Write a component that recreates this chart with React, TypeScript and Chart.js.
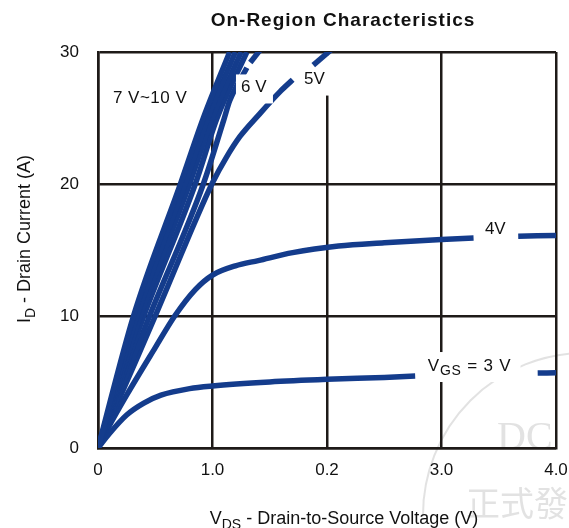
import { useEffect, useRef } from "react";
import { Chart, registerables } from "chart.js";

Chart.register(...registerables);

// ---------- data ----------
const TITLE = "On-Region Characteristics";
const X_TICKS = [0, 1, 2, 3, 4];
const X_TICK_LABELS = ["0", "1.0", "0.2", "3.0", "4.0"];
const Y_TICKS = [0, 10, 20, 30];
const Y_TICK_LABELS = ["0", "10", "20", "30"];

const VDS_10V = [0, 0.31, 0.72, 0.92, 1.15];
const ID_10V = [0, 10, 20, 25, 30];
const VDS_9V = [0, 0.34, 0.76, 0.96, 1.2];
const ID_9V = [0, 10, 20, 25, 30];
const VDS_8V = [0, 0.37, 0.8, 1.0, 1.25];
const ID_8V = [0, 10, 20, 25, 30];
const VDS_7V = [0, 0.4, 0.85, 1.04, 1.3];
const ID_7V = [0, 10, 20, 25, 30];
const VDS_6V = [0, 0.45, 0.92, 1.1, 1.15, 1.3, 1.33, 1.42];
const ID_6V = [0, 10, 20, 24.9, 26.3, 28.8, 29.2, 30.2];
const VDS_5V = [0, 0.25, 0.5, 0.67, 0.84, 1.0, 1.12, 1.24, 1.4, 1.59, 1.7, 1.88, 2.04];
const ID_5V = [0, 5, 10, 13.5, 17, 20.1, 22, 23.6, 25.2, 27, 27.9, 29, 30.2];
const VDS_4V = [0, 0.1, 0.25, 0.5, 0.67, 0.85, 1.0, 1.2, 1.4, 1.7, 2.1, 2.5, 3.0, 3.28, 3.67, 4.0];
const ID_4V = [0, 1.7, 4.0, 7.6, 10, 12, 13.1, 13.8, 14.2, 14.8, 15.3, 15.55, 15.8, 15.9, 16.05, 16.1];
const VDS_3V = [0, 0.1, 0.25, 0.4, 0.55, 0.8, 1.0, 1.5, 2.0, 2.5, 2.77, 3.84, 4.0];
const ID_3V = [0, 1.1, 2.5, 3.4, 4.0, 4.5, 4.7, 5.0, 5.2, 5.35, 5.45, 5.68, 5.7];

// label gaps along curves (VDS from, VDS to)
const GAP_6V = [1.3, 1.33];
const GAP_5V = [1.7, 1.88];
const GAP_4V = [3.28, 3.67];
const GAP_3V = [2.77, 3.84];

// ---------- style ----------
const FONT = '"Liberation Sans", Arial, Helvetica, sans-serif';
const BLUE = "#143c8c";
const GRID = "#1e1a18";
const TEXT = "#111111";

type Part = [string, boolean];

function setFont(ctx: CanvasRenderingContext2D, size: number, sub: boolean, bold: boolean, subScale: number) {
  ctx.font = `${bold ? "bold " : ""}${sub ? Math.round(size * subScale) : size}px ${FONT}`;
}

function segments(vds: number[], id: number[], gap?: number[]) {
  const pts = vds.map((x, i) => ({ x, y: id[i] }));
  if (!gap) return [pts];
  return [pts.filter((p) => p.x <= gap[0]), pts.filter((p) => p.x >= gap[1])];
}

function drawParts(
  ctx: CanvasRenderingContext2D,
  parts: Part[],
  x: number,
  y: number,
  size: number,
  align: "left" | "center",
  bold = false,
  spacing = 0,
  subScale = 0.75
) {
  (ctx as any).letterSpacing = `${spacing}px`;
  let total = 0;
  for (const [t, sub] of parts) {
    setFont(ctx, size, sub, bold, subScale);
    total += ctx.measureText(t).width;
  }
  let cx = align === "center" ? x - total / 2 : x;
  ctx.textAlign = "left";
  ctx.textBaseline = "middle";
  ctx.fillStyle = TEXT;
  for (const [t, sub] of parts) {
    setFont(ctx, size, sub, bold, subScale);
    ctx.fillText(t, cx, sub ? y + size * 0.32 : y);
    cx += ctx.measureText(t).width;
  }
  (ctx as any).letterSpacing = "0px";
}

// curve labels: anchor in data coordinates
const CURVE_LABELS: { parts: Part[]; v: number; i: number; align: "left" | "center"; spacing: number; subScale: number }[] = [
  { parts: [["7 V~10 V", false]], v: 0.13, i: 26.5, align: "left", spacing: 0.5, subScale: 0.75 },
  { parts: [["6 V", false]], v: 1.36, i: 27.3, align: "center", spacing: 0, subScale: 0.75 },
  { parts: [["5V", false]], v: 1.89, i: 27.9, align: "center", spacing: 0, subScale: 0.75 },
  { parts: [["4V", false]], v: 3.47, i: 16.6, align: "center", spacing: 0, subScale: 0.75 },
  {
    parts: [["V", false], ["GS", true], [" = 3 V", false]],
    v: 2.88,
    i: 6.2,
    align: "left",
    spacing: 0.8,
    subScale: 0.82,
  },
];

// white masks behind labels, in data coordinates [v1, v2, i1, i2]
const MASKS_UNDER = [
  [1.75, 2.08, 29.75, 26.7],
  [2.86, 3.69, 7.27, 5.0],
];
const MASKS_OVER = [[1.205, 1.528, 28.3, 26.1]];

function fillMasks(chart: any, masks: number[][]) {
  const ctx = chart.ctx as CanvasRenderingContext2D;
  const xs = chart.scales.x;
  const ys = chart.scales.y;
  ctx.fillStyle = "#ffffff";
  for (const [v1, v2, i1, i2] of masks) {
    const x1 = xs.getPixelForValue(v1);
    const x2 = xs.getPixelForValue(v2);
    const y1 = ys.getPixelForValue(i1);
    const y2 = ys.getPixelForValue(i2);
    ctx.fillRect(x1, y1, x2 - x1, y2 - y1);
  }
}

const labelPlugin = {
  id: "labelPlugin",
  beforeDraw(chart: any) {
    const ctx = chart.ctx as CanvasRenderingContext2D;
    ctx.save();
    ctx.fillStyle = "#ffffff";
    ctx.fillRect(0, 0, chart.width, chart.height);
    // faint watermark
    ctx.strokeStyle = "rgba(190,190,190,0.45)";
    ctx.lineWidth = 2;
    ctx.beginPath();
    ctx.arc(585, 515, 162, Math.PI, Math.PI * 1.6);
    ctx.stroke();
    ctx.fillStyle = "rgba(190,190,190,0.45)";
    ctx.textAlign = "left";
    ctx.textBaseline = "alphabetic";
    ctx.font = `40px "Liberation Serif", "DejaVu Serif", serif`;
    ctx.fillText("DC", 497, 449);
    ctx.font = `34px "Noto Sans CJK SC", sans-serif`;
    ctx.fillText("正式發", 466, 516);
    ctx.restore();
  },
  beforeDatasetsDraw(chart: any) {
    chart.ctx.save();
    fillMasks(chart, MASKS_UNDER);
    chart.ctx.restore();
  },
  afterDatasetsDraw(chart: any) {
    const ctx = chart.ctx as CanvasRenderingContext2D;
    const xs = chart.scales.x;
    const ys = chart.scales.y;
    ctx.save();
    fillMasks(chart, MASKS_OVER);
    for (const l of CURVE_LABELS) {
      drawParts(
        ctx,
        l.parts,
        xs.getPixelForValue(l.v),
        ys.getPixelForValue(l.i),
        17,
        l.align,
        false,
        l.spacing,
        l.subScale
      );
    }
    ctx.restore();
  },
  afterDraw(chart: any) {
    const ctx = chart.ctx as CanvasRenderingContext2D;
    ctx.save();
    drawParts(ctx, [[TITLE, false]], 343, 21, 19, "center", true, 1);
    drawParts(
      ctx,
      [["V", false], ["DS", true], [" - Drain-to-Source Voltage (V)", false]],
      344,
      519,
      18,
      "center"
    );
    ctx.translate(25, 239);
    ctx.rotate(-Math.PI / 2);
    drawParts(ctx, [["I", false], ["D", true], [" - Drain Current (A)", false]], 0, 0, 18, "center");
    ctx.restore();
  },
};

export default function App() {
  const ref = useRef<HTMLCanvasElement | null>(null);

  useEffect(() => {
    if (!ref.current) return;
    const series: { x: number; y: number }[][] = [
      ...segments(VDS_10V, ID_10V),
      ...segments(VDS_9V, ID_9V),
      ...segments(VDS_8V, ID_8V),
      ...segments(VDS_7V, ID_7V),
      ...segments(VDS_6V, ID_6V, GAP_6V),
      ...segments(VDS_5V, ID_5V, GAP_5V),
      ...segments(VDS_4V, ID_4V, GAP_4V),
      ...segments(VDS_3V, ID_3V, GAP_3V),
    ];
    const chart = new Chart(ref.current, {
      type: "scatter",
      data: {
        datasets: series.map((pts) => ({
          data: pts,
          showLine: true,
          borderColor: BLUE,
          backgroundColor: BLUE,
          borderWidth: 5.5,
          pointRadius: 0,
          cubicInterpolationMode: "monotone" as const,
          borderCapStyle: "butt" as const,
        })),
      },
      options: {
        animation: false,
        responsive: true,
        maintainAspectRatio: false,
        layout: { padding: { top: 52, right: 13, left: 0, bottom: 0 } },
        plugins: { legend: { display: false }, tooltip: { enabled: false }, title: { display: false } },
        events: [],
        scales: {
          x: {
            type: "linear",
            min: 0,
            max: 4,
            afterBuildTicks: (axis: any) => {
              axis.ticks = X_TICKS.map((v) => ({ value: v }));
            },
            afterFit: (axis: any) => {
              axis.height = 80;
              axis.paddingLeft = 0;
              axis.paddingRight = 0;
            },
            ticks: {
              callback: (_v: any, idx: number) => X_TICK_LABELS[idx],
              font: { size: 17, family: FONT },
              color: TEXT,
              padding: 12,
              maxRotation: 0,
              autoSkip: false,
            },
            grid: { color: GRID, lineWidth: 2.5, drawTicks: false },
            border: { display: true, color: GRID, width: 2.5 },
          },
          y: {
            type: "linear",
            min: 0,
            max: 30,
            afterBuildTicks: (axis: any) => {
              axis.ticks = Y_TICKS.map((v) => ({ value: v }));
            },
            afterFit: (axis: any) => {
              axis.width = 98;
              axis.paddingTop = 0;
              axis.paddingBottom = 0;
            },
            ticks: {
              callback: (_v: any, idx: number) => Y_TICK_LABELS[idx],
              font: { size: 17, family: FONT },
              color: TEXT,
              padding: 19,
              autoSkip: false,
            },
            grid: { color: GRID, lineWidth: 2.5, drawTicks: false },
            border: { display: true, color: GRID, width: 2.5 },
          },
        },
      },
      plugins: [labelPlugin],
    });
    return () => chart.destroy();
  }, []);

  return (
    <div style={{ position: "fixed", left: 0, top: 0, width: 569, height: 528, background: "#fff" }}>
      <canvas ref={ref} />
    </div>
  );
}
